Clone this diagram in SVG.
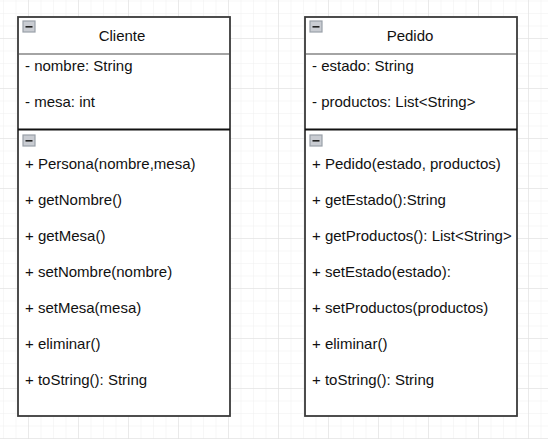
<svg xmlns="http://www.w3.org/2000/svg" width="548" height="439" viewBox="0 0 548 439">
  <defs>
    <pattern id="minor" x="3" y="0.5" width="12.5" height="12.5" patternUnits="userSpaceOnUse">
      <path d="M0 0 H12.5 M0 0 V12.5" stroke="#efefef" stroke-width="1" fill="none"/>
    </pattern>
    <pattern id="major" x="28" y="38" width="50" height="50" patternUnits="userSpaceOnUse">
      <path d="M0 0 H50 M0 0 V50" stroke="#dedede" stroke-width="1" fill="none"/>
    </pattern>
    <g id="collapse">
      <rect x="0" y="0" width="12" height="11" fill="#c9ccd2" stroke="#9aa0a8" stroke-width="1.2"/>
      <line x1="2.5" y1="5.8" x2="9.5" y2="5.8" stroke="#222" stroke-width="1.6"/>
    </g>
  </defs>
  <style>
    .box { fill: #ffffff; stroke: #3a3a3a; stroke-width: 1.8; }
    .hdr { stroke: #4a4a4a; stroke-width: 1.2; }
    .sep { stroke: #111111; stroke-width: 2; }
    text { font-family: "Liberation Sans", Arial, sans-serif; font-size: 15px; fill: #111111; }
    .title { text-anchor: middle; }
  </style>
  <rect width="548" height="439" fill="#ffffff"/>
  <rect width="548" height="439" fill="url(#minor)"/>
  <rect width="548" height="439" fill="url(#major)"/>

  <g id="connectors"></g>

  <g id="cliente">
    <rect class="box" x="18" y="17" width="212" height="399"/>
    <line class="hdr" x1="18" y1="54" x2="230" y2="54"/>
    <line class="sep" x1="18" y1="129.5" x2="230" y2="129.5"/>
    <use href="#collapse" x="23" y="21"/>
    <use href="#collapse" x="23" y="135"/>
    <text class="title" x="122" y="41">Cliente</text>
    <text x="25" y="71">- nombre: String</text>
    <text x="25" y="107">- mesa: int</text>
    <text x="25" y="169">+ Persona(nombre,mesa)</text>
    <text x="25" y="205">+ getNombre()</text>
    <text x="25" y="241">+ getMesa()</text>
    <text x="25" y="277">+ setNombre(nombre)</text>
    <text x="25" y="313">+ setMesa(mesa)</text>
    <text x="25" y="349">+ eliminar()</text>
    <text x="25" y="385">+ toString(): String</text>
  </g>

  <g id="pedido">
    <rect class="box" x="305" y="17" width="212" height="399"/>
    <line class="hdr" x1="305" y1="54" x2="517" y2="54"/>
    <line class="sep" x1="305" y1="129.5" x2="517" y2="129.5"/>
    <use href="#collapse" x="310" y="21"/>
    <use href="#collapse" x="310" y="135"/>
    <text class="title" x="410" y="41">Pedido</text>
    <text x="312" y="71">- estado: String</text>
    <text x="312" y="107">- productos: List&lt;String&gt;</text>
    <text x="312" y="169">+ Pedido(estado, productos)</text>
    <text x="312" y="205">+ getEstado():String</text>
    <text x="312" y="241">+ getProductos(): List&lt;String&gt;</text>
    <text x="312" y="277">+ setEstado(estado):</text>
    <text x="312" y="313">+ setProductos(productos)</text>
    <text x="312" y="349">+ eliminar()</text>
    <text x="312" y="385">+ toString(): String</text>
  </g>
</svg>
